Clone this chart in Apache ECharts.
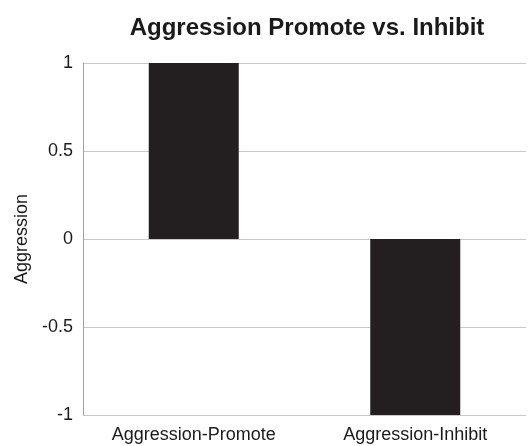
<!DOCTYPE html>
<html><head><meta charset="utf-8">
<script src="https://cdn.jsdelivr.net/npm/echarts@6/dist/echarts.min.js"></script>
<style>html,body{margin:0;padding:0;background:#fff}#c{width:530px;height:446px}</style>
</head><body><div id="c"></div>
<script>
const categories = ['Aggression-Promote', 'Aggression-Inhibit'];
const values = [1, -1];
const yTicks = [-1, -0.5, 0, 0.5, 1];

const chart = echarts.init(document.getElementById('c'), null, {renderer: 'canvas'});
chart.setOption({
  animation: false,
  backgroundColor: '#fff',
  title: {
    text: 'Aggression Promote vs. Inhibit',
    left: 302, top: 11, textAlign: 'center',
    textStyle: {fontFamily: 'Liberation Sans', fontSize: 24, fontWeight: 'bold', color: '#1a1a1a'}
  },
  grid: {left: 83, right: 4, top: 63, bottom: 31},
  xAxis: {
    type: 'category', data: categories,
    axisLine: {show: false}, axisTick: {show: false},
    axisLabel: {fontFamily: 'Liberation Sans', fontSize: 18, color: '#1a1a1a', margin: 11}
  },
  yAxis: {
    type: 'value', min: yTicks[0], max: yTicks[yTicks.length - 1], interval: 0.5,
    name: 'Aggression', nameLocation: 'middle', nameGap: 49,
    nameTextStyle: {fontFamily: 'Liberation Sans', fontSize: 18, color: '#1a1a1a'},
    axisLine: {show: true, lineStyle: {color: '#a0a0a0', width: 1}},
    axisTick: {show: false},
    splitLine: {lineStyle: {color: '#c8c8c8', width: 1}},
    axisLabel: {fontFamily: 'Liberation Sans', fontSize: 18, color: '#1a1a1a', margin: 10,
      formatter: v => String(v)}
  },
  series: [{
    type: 'bar', data: values, barWidth: 90,
    itemStyle: {color: '#231f20'}
  }]
});
</script></body></html>
